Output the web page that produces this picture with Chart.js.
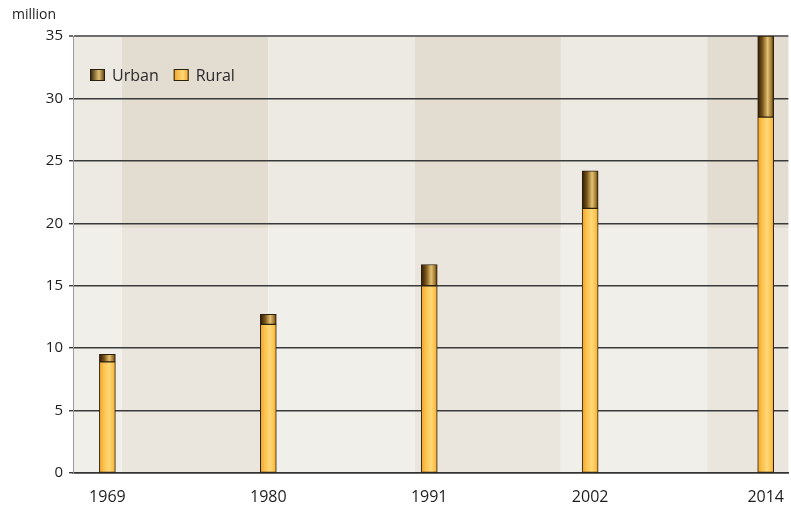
<!DOCTYPE html>
<html>
<head>
<meta charset="utf-8">
<script src="https://cdn.jsdelivr.net/npm/chart.js"></script>
<style>
  html, body { margin: 0; padding: 0; background: #ffffff; }
  #wrap { position: relative; width: 791px; height: 509px; }
</style>
</head>
<body>
<div id="wrap"><canvas id="chart" width="791" height="509"></canvas></div>
<script>
// census years and population (million)
const years = [1969, 1980, 1991, 2002, 2014];
const rural = [8.9, 11.9, 15.0, 21.2, 28.5];
const urban = [0.6, 0.8, 1.7, 3.0, 6.5];
const yTicks = [0, 5, 10, 15, 20, 25, 30, 35];
const decades = [1960, 1970, 1980, 1990, 2000, 2010, 2020];

const FONT = "'Open Sans', 'DejaVu Sans', sans-serif";

// horizontal "cylinder" shading across each bar
function barGradient(stops, fallback) {
  return function (ctx) {
    const chart = ctx.chart;
    const xs = chart.scales && chart.scales.x;
    if (!xs || !chart.chartArea) return fallback;
    const cx = xs.getPixelForValue(years[ctx.dataIndex]);
    const g = chart.ctx.createLinearGradient(cx - 8, 0, cx + 8, 0);
    stops.forEach(function (s) { g.addColorStop(s[0], s[1]); });
    return g;
  };
}

const ruralFill = barGradient([
  [0, "#eea228"], [0.25, "#fbc04a"], [0.6, "#ffd877"], [0.85, "#fbc24c"], [1, "#eea52e"]
], "#fcc44f");
const urbanFill = barGradient([
  [0, "#2b1a05"], [0.3, "#7a5419"], [0.62, "#e2c274"], [0.85, "#a47a30"], [1, "#4a300a"]
], "#8a6424");

// decade bands behind the plot, washed out below ~20
const backdrop = {
  id: "backdrop",
  beforeDraw(chart) {
    const { ctx, chartArea: a, scales: { x, y } } = chart;
    ctx.save();
    ctx.beginPath();
    ctx.rect(a.left, a.top, a.right - a.left, a.bottom - a.top);
    ctx.clip();
    const hazeTop = y.getPixelForValue(19.6);
    for (let i = 0; i < decades.length - 1; i++) {
      const x0 = x.getPixelForValue(decades[i]);
      const x1 = x.getPixelForValue(decades[i + 1]);
      const dark = i % 2 === 1;
      ctx.fillStyle = dark ? "#e2dcd1" : "#edeae4";
      ctx.fillRect(x0, a.top, x1 - x0, hazeTop - a.top);
      ctx.fillStyle = dark ? "#ebe6dd" : "#f1efea";
      ctx.fillRect(x0, hazeTop, x1 - x0, a.bottom - hazeTop);
    }
    ctx.restore();
  },
  afterDraw(chart) {
    const { ctx, chartArea: a } = chart;
    ctx.save();
    ctx.fillStyle = "#1e1e1e";
    ctx.font = "14px " + FONT;
    ctx.textBaseline = "alphabetic";
    ctx.fillText("million", 12, 19);

    // legend
    const items = [["Urban", "#8a6424"], ["Rural", "#fcc44f"]];
    let lx = a.left + 17;
    const ly = a.top + 33;
    ctx.font = "16px " + FONT;
    items.forEach(function (it, i) {
      const g = ctx.createLinearGradient(lx, 0, lx + 15, 0);
      if (i === 0) {
        g.addColorStop(0, "#2b1a05"); g.addColorStop(0.6, "#e2c274"); g.addColorStop(1, "#4a300a");
      } else {
        g.addColorStop(0, "#eea228"); g.addColorStop(0.6, "#ffd877"); g.addColorStop(1, "#eea52e");
      }
      ctx.fillStyle = g;
      ctx.fillRect(lx, ly, 15, 12);
      ctx.strokeStyle = "#2a2010";
      ctx.lineWidth = 1;
      ctx.strokeRect(lx + 0.5, ly + 0.5, 14, 11);
      ctx.fillStyle = "#2a2a2a";
      ctx.fillText(it[0], lx + 22, ly + 12);
      lx += 22 + ctx.measureText(it[0]).width + 15;
    });
    ctx.restore();
  }
};

new Chart(document.getElementById("chart").getContext("2d"), {
  type: "bar",
  data: {
    datasets: [
      {
        label: "Rural",
        data: years.map(function (yr, i) { return { x: yr, y: rural[i] }; }),
        backgroundColor: ruralFill,
        borderColor: "#2a2010",
        borderWidth: 1,
        borderSkipped: false,
        barThickness: 16
      },
      {
        label: "Urban",
        data: years.map(function (yr, i) { return { x: yr, y: urban[i] }; }),
        backgroundColor: urbanFill,
        borderColor: "#2a2010",
        borderWidth: 1,
        borderSkipped: false,
        barThickness: 16
      }
    ]
  },
  options: {
    responsive: false,
    animation: false,
    layout: { padding: { top: 36, left: 0, right: 0, bottom: 0 } },
    plugins: {
      legend: { display: false },
      tooltip: { enabled: false }
    },
    scales: {
      x: {
        type: "linear",
        stacked: true,
        offset: false,
        min: 1966.65,
        max: 2015.55,
        afterBuildTicks: function (axis) {
          axis.ticks = years.map(function (v) { return { value: v }; });
        },
        afterFit: function (axis) { axis.height = 36; },
        grid: { display: false, offset: false },
        border: { display: true, color: "#333", width: 1.5 },
        ticks: {
          color: "#1e1e1e",
          font: { family: FONT, size: 16 },
          padding: 7,
          maxRotation: 0,
          autoSkip: false,
          callback: function (v) { return String(v); }
        }
      },
      y: {
        stacked: true,
        min: 0,
        max: 35,
        afterBuildTicks: function (axis) {
          axis.ticks = yTicks.map(function (v) { return { value: v }; });
        },
        afterFit: function (axis) { axis.width = 73; },
        grid: {
          color: function (c) { return c.tick && c.tick.value === 35 ? "#6e6e6e" : "#3a3a3a"; },
          lineWidth: function (c) { return c.tick && c.tick.value === 35 ? 2 : 1.4; },
          tickLength: 4,
          drawTicks: true
        },
        border: { display: true, color: "#9a9a9a", width: 1 },
        ticks: {
          color: "#1e1e1e",
          font: { family: FONT, size: 15 },
          padding: 6
        }
      }
    }
  },
  plugins: [backdrop]
});
</script>
</body>
</html>
